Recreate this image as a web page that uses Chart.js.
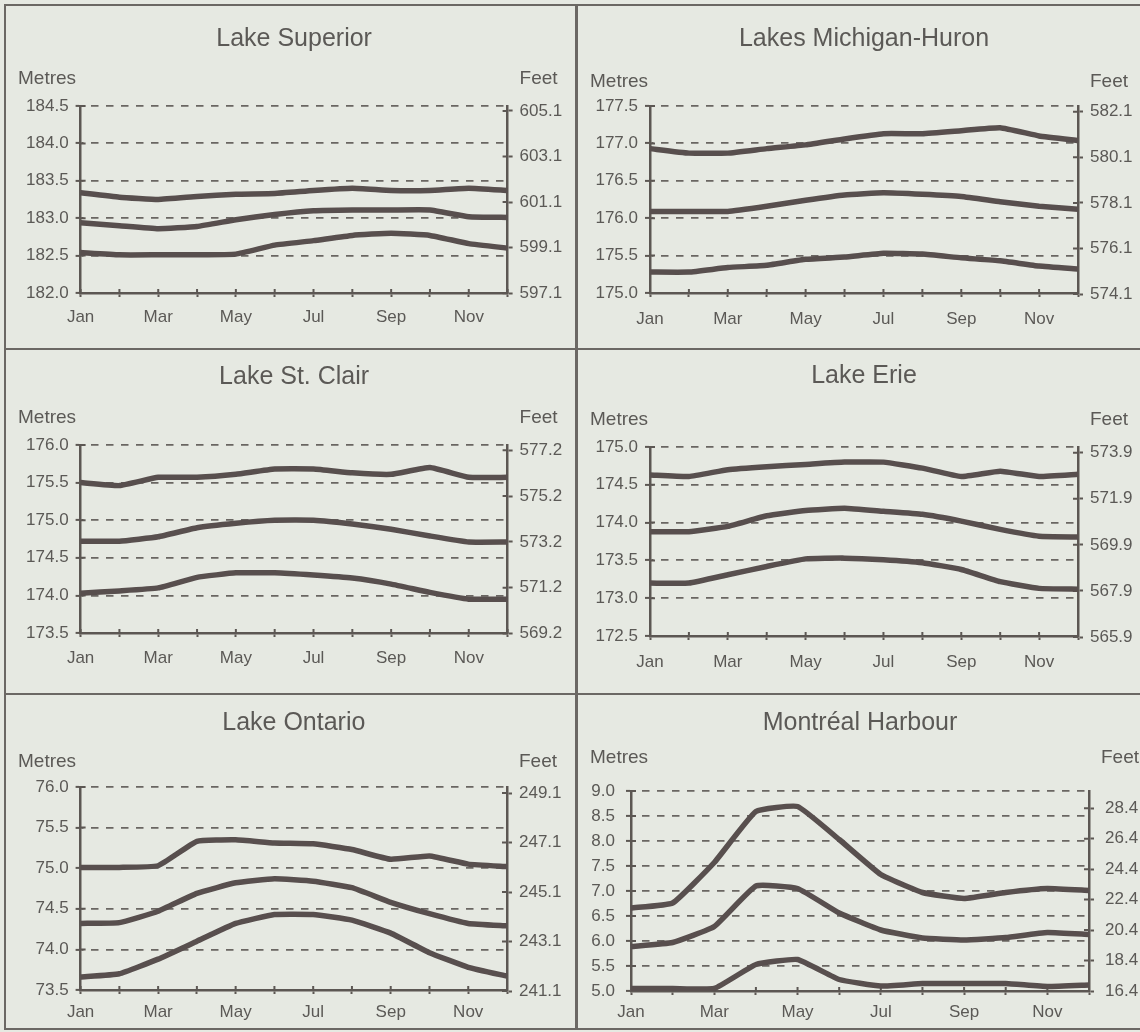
<!DOCTYPE html>
<html>
<head>
<meta charset="utf-8">
<title>Water levels - Great Lakes and Montréal Harbour</title>
<script src="https://cdn.jsdelivr.net/npm/chart.js@4.4.0/dist/chart.umd.min.js"></script>
<style>
  body { margin: 0; background: #e6e9e2; }
  #board { position: relative; width: 1140px; height: 1032px; background: #e6e9e2; overflow: hidden; }
  .rule { position: absolute; background: #6b6864; }
  #board canvas { position: absolute; }
</style>
</head>
<body>
<div id="board">
  <!-- frame and panel dividers -->
  <div class="rule" style="left:4px;top:4px;width:1136px;height:2px"></div>
  <div class="rule" style="left:4px;top:4px;width:2px;height:1026px"></div>
  <div class="rule" style="left:4px;top:1028px;width:1136px;height:2px"></div>
  <div class="rule" style="left:575px;top:4px;width:3px;height:1026px"></div>
  <div class="rule" style="left:4px;top:348px;width:1136px;height:2px"></div>
  <div class="rule" style="left:4px;top:693px;width:1136px;height:2px"></div>
</div>
<script>
// months on the x axis
const months = ['Jan', 'Feb', 'Mar', 'Apr', 'May', 'Jun', 'Jul', 'Aug', 'Sep', 'Oct', 'Nov', 'Dec'];

// water levels in metres (maximum, mean, minimum)
const superiorMax = [183.34, 183.28, 183.25, 183.29, 183.32, 183.33, 183.37, 183.40, 183.37, 183.37, 183.40, 183.37];
const superiorMean = [182.94, 182.90, 182.86, 182.89, 182.98, 183.05, 183.10, 183.11, 183.11, 183.11, 183.02, 183.01];
const superiorMin = [182.54, 182.51, 182.51, 182.51, 182.52, 182.64, 182.70, 182.77, 182.80, 182.77, 182.66, 182.60];

const michiganMax = [176.93, 176.87, 176.87, 176.93, 176.98, 177.06, 177.13, 177.13, 177.17, 177.21, 177.10, 177.04];
const michiganMean = [176.09, 176.09, 176.09, 176.16, 176.24, 176.31, 176.34, 176.32, 176.29, 176.22, 176.16, 176.12];
const michiganMin = [175.28, 175.28, 175.34, 175.37, 175.45, 175.48, 175.53, 175.52, 175.47, 175.43, 175.36, 175.32];

const stClairMax = [175.50, 175.46, 175.57, 175.57, 175.61, 175.68, 175.68, 175.63, 175.61, 175.70, 175.57, 175.57];
const stClairMean = [174.72, 174.72, 174.78, 174.90, 174.96, 175.00, 175.00, 174.95, 174.88, 174.79, 174.71, 174.71];
const stClairMin = [174.03, 174.06, 174.10, 174.24, 174.30, 174.30, 174.27, 174.23, 174.15, 174.04, 173.95, 173.95];

const erieMax = [174.63, 174.61, 174.70, 174.74, 174.77, 174.80, 174.80, 174.72, 174.61, 174.68, 174.61, 174.64];
const erieMean = [173.88, 173.88, 173.95, 174.09, 174.16, 174.19, 174.15, 174.11, 174.02, 173.91, 173.82, 173.81];
const erieMin = [173.20, 173.20, 173.31, 173.42, 173.52, 173.53, 173.51, 173.47, 173.38, 173.22, 173.13, 173.12];

const ontarioMax = [75.01, 75.01, 75.03, 75.33, 75.35, 75.31, 75.30, 75.23, 75.11, 75.15, 75.05, 75.02];
const ontarioMean = [74.32, 74.33, 74.47, 74.69, 74.82, 74.87, 74.84, 74.76, 74.58, 74.44, 74.32, 74.29];
const ontarioMin = [73.66, 73.70, 73.88, 74.10, 74.32, 74.43, 74.43, 74.36, 74.20, 73.96, 73.78, 73.67];

const montrealMax = [6.66, 6.76, 7.57, 8.59, 8.69, 8.03, 7.33, 6.97, 6.85, 6.97, 7.05, 7.01];
const montrealMean = [5.89, 5.97, 6.29, 7.10, 7.05, 6.56, 6.22, 6.06, 6.02, 6.07, 6.17, 6.13];
const montrealMin = [5.05, 5.05, 5.05, 5.53, 5.63, 5.23, 5.10, 5.15, 5.15, 5.15, 5.09, 5.12];

// feet tick labels on the right axes
const superiorFeet = [597.1, 599.1, 601.1, 603.1, 605.1];
const michiganFeet = [574.1, 576.1, 578.1, 580.1, 582.1];
const stClairFeet = [569.2, 571.2, 573.2, 575.2, 577.2];
const erieFeet = [565.9, 567.9, 569.9, 571.9, 573.9];
const ontarioFeet = [241.1, 243.1, 245.1, 247.1, 249.1];
const montrealFeet = [16.4, 18.4, 20.4, 22.4, 24.4, 26.4, 28.4];

const FEET_PER_METRE = 3.28084;

// colours
const TEXT = '#5b5956';
const AXIS = '#5c5753';
const GRID = '#6a6662';
const LINE = '#584f4e';
const FONT = '"Liberation Sans", Arial, sans-serif';

Chart.defaults.font.family = FONT;
Chart.defaults.color = TEXT;

// panel layout: canvas box [left, top, w, h], chart area [left, top, right, bottom] inside it
const panels = [
  { title: 'Lake Superior', lines: [superiorMax, superiorMean, superiorMin], yMin: 182.0, yMax: 184.5, feet: superiorFeet,
    box: [6, 6, 569, 342], area: [74.6, 100, 501.6, 287], titleY: 33, unitY: 73, xPad: 10, yPad: 7 },
  { title: 'Lakes Michigan-Huron', lines: [michiganMax, michiganMean, michiganMin], yMin: 175.0, yMax: 177.5, feet: michiganFeet,
    box: [578, 6, 562, 342], area: [72, 100, 500, 287], titleY: 33, unitY: 76, xPad: 12, yPad: 7 },
  { title: 'Lake St. Clair', lines: [stClairMax, stClairMean, stClairMin], yMin: 173.5, yMax: 176.0, feet: stClairFeet,
    box: [6, 350, 569, 343], area: [74.6, 95, 501.6, 283], titleY: 27, unitY: 68, xPad: 11, yPad: 7 },
  { title: 'Lake Erie', lines: [erieMax, erieMean, erieMin], yMin: 172.5, yMax: 175.0, feet: erieFeet,
    box: [578, 350, 562, 343], area: [72, 97, 500, 286], titleY: 26, unitY: 70, xPad: 12, yPad: 7 },
  { title: 'Lake Ontario', lines: [ontarioMax, ontarioMean, ontarioMin], yMin: 73.5, yMax: 76.0, feet: ontarioFeet,
    box: [6, 695, 569, 333], area: [74.6, 92, 501, 295], titleY: 28, unitY: 67, xPad: 8, yPad: 7 },
  { title: 'Montréal Harbour', lines: [montrealMax, montrealMean, montrealMin], yMin: 5.0, yMax: 9.0, feet: montrealFeet,
    box: [578, 695, 562, 333], area: [53, 96, 511, 296], titleY: 28, unitY: 63, xPad: 7, yPad: 11 }
];

// tick marks that cross the axis lines (inner half)
const crossTicks = {
  id: 'crossTicks',
  beforeDatasetsDraw(chart) {
    const { ctx, chartArea, scales } = chart;
    ctx.save();
    ctx.strokeStyle = AXIS;
    ctx.lineWidth = 2;
    ctx.beginPath();
    scales.y.ticks.forEach((t, i) => {
      const y = scales.y.getPixelForTick(i);
      ctx.moveTo(chartArea.left, y);
      ctx.lineTo(chartArea.left + 5, y);
    });
    scales.y2.ticks.forEach((t, i) => {
      const y = scales.y2.getPixelForTick(i);
      ctx.moveTo(chartArea.right - 5, y);
      ctx.lineTo(chartArea.right, y);
    });
    scales.x.ticks.forEach((t, i) => {
      const x = scales.x.getPixelForTick(i);
      ctx.moveTo(x, chartArea.bottom - 4);
      ctx.lineTo(x, chartArea.bottom);
    });
    ctx.stroke();
    ctx.restore();
  }
};

// "Metres" and "Feet" above the axes
const unitLabels = {
  id: 'unitLabels',
  afterDraw(chart, args, opts) {
    const { ctx, chartArea } = chart;
    ctx.save();
    ctx.font = '19px ' + FONT;
    ctx.fillStyle = TEXT;
    ctx.textBaseline = 'middle';
    ctx.textAlign = 'left';
    ctx.fillText('Metres', 12, opts.y);
    ctx.fillText('Feet', chartArea.right + 12, opts.y);
    ctx.restore();
  }
};

const board = document.getElementById('board');

panels.forEach(function (p) {
  const [bx, by, bw, bh] = p.box;
  const [left, top, right, bottom] = p.area;

  const canvas = document.createElement('canvas');
  canvas.width = bw;
  canvas.height = bh;
  canvas.style.left = bx + 'px';
  canvas.style.top = by + 'px';
  board.appendChild(canvas);

  const titleLine = 25 * 1.2;

  new Chart(canvas, {
    type: 'line',
    data: {
      labels: months,
      datasets: p.lines.map(values => ({
        data: values,
        borderColor: LINE,
        borderWidth: 5.5,
        pointRadius: 0,
        tension: 0.12,
        borderJoinStyle: 'round'
      }))
    },
    options: {
      responsive: false,
      animation: false,
      devicePixelRatio: 1,
      layout: { padding: 0 },
      plugins: {
        legend: { display: false },
        tooltip: { enabled: false },
        title: {
          display: true,
          text: p.title,
          fullSize: false,
          color: TEXT,
          font: { size: 25, weight: 'normal' },
          padding: { top: p.titleY - titleLine / 2, bottom: top - p.titleY - titleLine / 2 }
        },
        unitLabels: { y: p.unitY }
      },
      scales: {
        x: {
          type: 'category',
          offset: false,
          grid: { drawOnChartArea: false, tickLength: 4, tickColor: AXIS, tickWidth: 2 },
          border: { color: AXIS, width: 2.5 },
          ticks: {
            autoSkip: false,
            maxRotation: 0,
            padding: p.xPad,
            font: { size: 17 },
            callback: function (v, i) { return i % 2 === 0 ? months[i] : ''; }
          },
          afterFit: function (scale) { scale.height = bh - bottom; }
        },
        y: {
          position: 'left',
          min: p.yMin,
          max: p.yMax,
          grid: {
            color: ctx => ctx.index === 0 ? 'rgba(0,0,0,0)' : GRID,
            lineWidth: 1.8,
            tickLength: 5,
            tickColor: AXIS,
            tickWidth: 2
          },
          border: { color: AXIS, width: 2.5, dash: [7.5, 7.5], dashOffset: 5.5 },
          ticks: {
            stepSize: 0.5,
            padding: p.yPad,
            font: { size: 17 },
            callback: v => Number(v).toFixed(1)
          },
          afterFit: function (scale) { scale.width = left; }
        },
        y2: {
          position: 'right',
          min: p.yMin * FEET_PER_METRE,
          max: p.yMax * FEET_PER_METRE,
          grid: { drawOnChartArea: false, tickLength: 5, tickColor: AXIS, tickWidth: 2 },
          border: { color: AXIS, width: 2.5 },
          ticks: {
            padding: p.yPad,
            font: { size: 17 },
            callback: v => Number(v).toFixed(1)
          },
          afterBuildTicks: function (scale) {
            scale.ticks = p.feet.map(v => ({ value: v }));
          },
          afterFit: function (scale) { scale.width = bw - right; }
        }
      }
    },
    plugins: [crossTicks, unitLabels]
  });
});
</script>
</body>
</html>
